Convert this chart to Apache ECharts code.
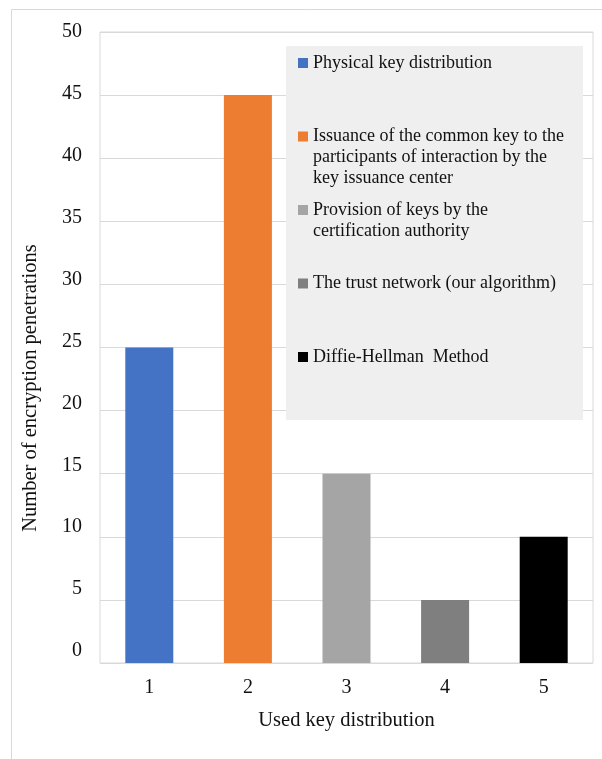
<!DOCTYPE html>
<html>
<head>
<meta charset="utf-8">
<script src="https://cdn.jsdelivr.net/npm/echarts@6/dist/echarts.min.js"></script>
<style>
  html, body { margin: 0; padding: 0; background: #fff; }
  #chart { width: 602px; height: 759px; }
</style>
</head>
<body>
<div id="chart"></div>
<script>
// Categories on the x axis and the value of each one
const categories = ['1', '2', '3', '4', '5'];
const seriesNames = [
  'Physical key distribution',
  'Issuance of the common key to the\nparticipants of interaction by the\nkey issuance center',
  'Provision of keys by the\ncertification authority',
  'The trust network (our algorithm)',
  'Diffie-Hellman  Method'
];
const values = [25, 45, 15, 5, 10];
const colors = ['#4472C4', '#ED7D31', '#A5A5A5', '#7F7F7F', '#000000'];
const yTicks = [0, 5, 10, 15, 20, 25, 30, 35, 40, 45, 50];

const FONT = 'Liberation Serif';
const TEXT = '#111111';
const GRIDLINE = '#d9d9d9';

// Every legend entry is padded to the same number of lines so the
// square sits beside the first line of its text.
function padLegend(name) {
  const lines = name.split('\n');
  const before = 2;
  const total = 5;
  const after = total - before - lines.length;
  return '\n'.repeat(before) + lines.join('\n') + '\n'.repeat(Math.max(after, 0));
}

// Tick labels creep slightly upward toward the bottom of the axis;
// each label gets its own bottom padding for that.
const yMax = yTicks[yTicks.length - 1];
const tickRich = {};
yTicks.forEach(v => {
  tickRich['t' + v] = { padding: [0, 0, (yMax - v) * 0.48, 0] };
});

// One series per category so each bar gets its own legend entry
const series = seriesNames.map((name, i) => ({
  name: name,
  type: 'bar',
  barWidth: 48,
  barGap: '-100%',
  itemStyle: { color: colors[i] },
  data: categories.map((c, j) => (j === i ? values[i] : '-'))
}));

const chart = echarts.init(document.getElementById('chart'), null, { renderer: 'canvas' });
chart.setOption({
  animation: false,
  textStyle: { fontFamily: FONT },
  grid: {
    left: 100, right: 9, top: 32, bottom: 96,
    show: true, borderColor: GRIDLINE, borderWidth: 1, backgroundColor: 'transparent'
  },
  xAxis: {
    type: 'category',
    data: categories,
    name: 'Used key distribution',
    nameLocation: 'middle',
    nameGap: 47,
    nameTextStyle: { fontFamily: FONT, fontSize: 20.5, color: TEXT },
    axisLine: { show: false },
    axisTick: { show: false },
    splitLine: { show: false },
    axisLabel: { margin: 15, fontFamily: FONT, fontSize: 20, color: TEXT }
  },
  yAxis: {
    type: 'value',
    min: yTicks[0],
    max: yMax,
    interval: 5,
    axisLine: { show: false },
    axisTick: { show: false },
    splitLine: { lineStyle: { color: GRIDLINE, width: 1 } },
    axisLabel: {
      margin: 18, fontFamily: FONT, fontSize: 20, color: TEXT,
      formatter: v => '{t' + v + '|' + v + '}',
      rich: tickRich
    }
  },
  legend: {
    orient: 'vertical',
    left: 298,
    top: 10.5,
    padding: 0,
    itemWidth: 10,
    itemHeight: 10,
    itemGap: -31.5,
    icon: 'rect',
    selectedMode: false,
    z: 6,
    data: seriesNames,
    formatter: padLegend,
    textStyle: { fontFamily: FONT, fontSize: 18, lineHeight: 21, color: TEXT }
  },
  graphic: [
    {
      type: 'rect',
      z: -1,
      silent: true,
      shape: { x: 11.5, y: 9.5, width: 620, height: 780 },
      style: { fill: 'none', stroke: GRIDLINE, lineWidth: 1 }
    },
    {
      type: 'rect',
      z: 5,
      silent: true,
      shape: { x: 286, y: 46, width: 297, height: 374 },
      style: { fill: '#efefef' }
    },
    {
      // vertical axis title
      type: 'text',
      z: 5,
      silent: true,
      x: 30.5,
      y: 388,
      rotation: Math.PI / 2,
      style: {
        text: 'Number of encryption penetrations',
        font: '20.5px "Liberation Serif"',
        fill: TEXT,
        align: 'center',
        verticalAlign: 'middle'
      }
    }
  ],
  series: series
});
</script>
</body>
</html>
